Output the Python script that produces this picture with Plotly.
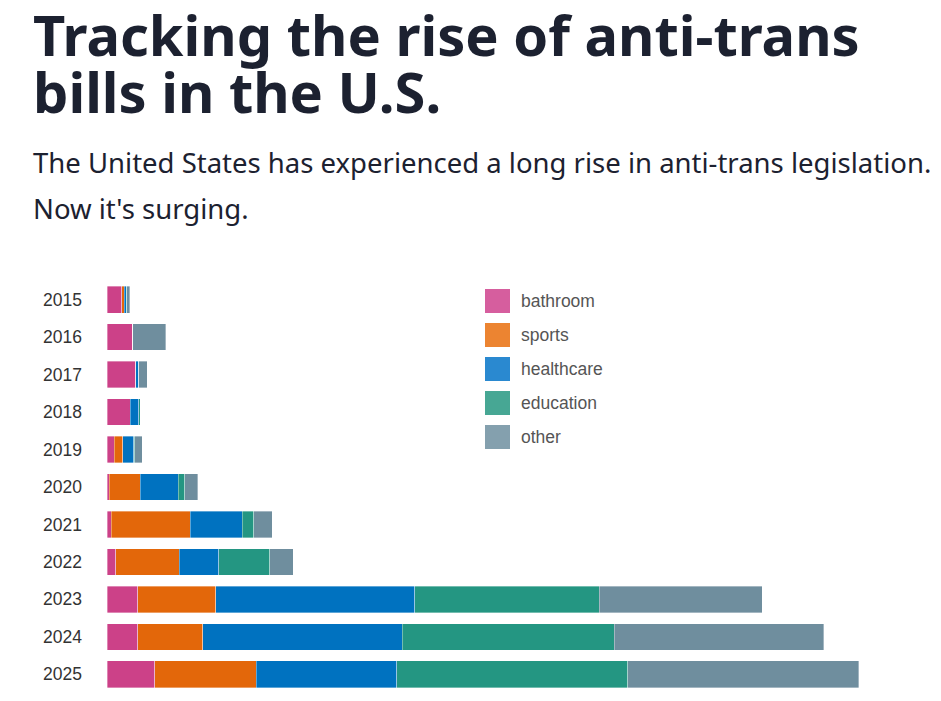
import plotly.graph_objects as go

years = ["2015", "2016", "2017", "2018", "2019", "2020", "2021", "2022", "2023", "2024", "2025"]
bathroom = [14, 24, 27, 22, 7, 2, 4, 8, 29, 29, 45]
sports = [2, 0, 0, 0, 8, 29, 74, 60, 73, 61, 95]
healthcare = [2, 0, 3, 8, 10, 36, 49, 37, 187, 187, 132]
education = [0.5, 0, 0, 1, 1, 6, 11, 48, 173, 199, 217]
other = [3, 31, 8, 0, 7, 12, 17, 22, 153, 197, 217]

series_names = ["bathroom", "sports", "healthcare", "education", "other"]
bar_colors = ["#cc4188", "#e3670a", "#0072c0", "#249682", "#6f8e9e"]
legend_colors = ["#d65e9e", "#ec8431", "#2a89d0", "#47a794", "#84a0ae"]
series_values = [bathroom, sports, healthcare, education, other]

# page body has an 8px margin, so figure coords = page coords - 8
OFF = 8
W, H = 941 - OFF, 701 - OFF
ML, MR, MT, MB = 107 - OFF, 0, 281 - OFF, 8
pw, ph = W - ML - MR, H - MT - MB

def px(x):
    return (x - OFF - ML) / pw

def py(y):
    return (H - MB - (y - OFF)) / ph

fig = go.Figure()
for name, vals, col in zip(series_names, series_values, bar_colors):
    fig.add_trace(go.Bar(
        y=years, x=vals, name=name, orientation="h",
        marker=dict(color=col, line=dict(color="rgba(255,255,255,0.6)", width=0.6)),
        showlegend=False,
    ))

font_main = "Noto Sans, Open Sans, sans-serif"
fig.update_layout(
    width=W, height=H,
    barmode="stack", bargap=0.29,
    plot_bgcolor="white", paper_bgcolor="white",
    margin=dict(l=ML, r=MR, t=MT, b=MB),
    xaxis=dict(range=[0, 783], visible=False, fixedrange=True),
    yaxis=dict(autorange="reversed", showgrid=False, showline=False, ticks="",
               ticklabelstandoff=24,
               tickfont=dict(family="Liberation Sans, Arial, sans-serif", size=17.5, color="#333333")),
    font=dict(family=font_main),
)

texts = [
    dict(text="<b>Tracking the rise of anti-trans</b>", y=34, size=56),
    dict(text="<b>bills in the U.S.</b>", y=91, size=56),
    dict(text="The United States has experienced a long rise in anti-trans legislation.", y=162, size=27.5),
    dict(text="Now it's surging.", y=208, size=27.5),
]
for a in texts:
    fig.add_annotation(
        text=a["text"], x=px(31), y=py(a["y"]), xref="paper", yref="paper",
        showarrow=False, xanchor="left", yanchor="middle",
        font=dict(family=font_main, size=a["size"], color="#1c2130"),
    )

# Manual legend with larger swatches
for i, (name, col) in enumerate(zip(series_names, legend_colors)):
    cy = 301 + i * 34
    fig.add_shape(type="rect", xref="paper", yref="paper",
                  x0=px(485), x1=px(510), y0=py(cy - 12), y1=py(cy + 12),
                  fillcolor=col, line=dict(width=0))
    fig.add_annotation(text=name, x=px(519), y=py(cy), xref="paper", yref="paper",
                       showarrow=False, xanchor="left", yanchor="middle",
                       font=dict(family="Liberation Sans, Arial, sans-serif", size=17.5, color="#555555"))

fig.write_html("out.html")
